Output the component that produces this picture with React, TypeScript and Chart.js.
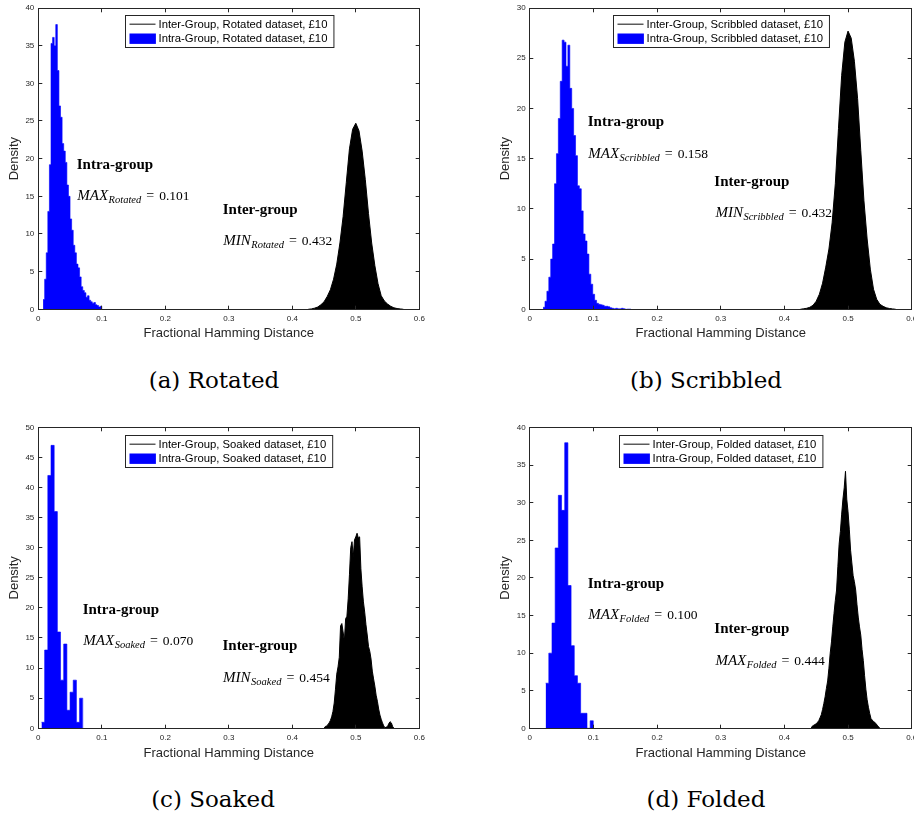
import React, { useEffect, useRef } from "react";
import { Chart, registerables } from "chart.js";

Chart.register(...registerables);

// ---------------- shared axis content ----------------
const X_TICKS = [0, 0.1, 0.2, 0.3, 0.4, 0.5, 0.6];
const X_TICK_LABELS = ["0", "0.1", "0.2", "0.3", "0.4", "0.5", "0.6"];
const X_TITLE = "Fractional Hamming Distance";
const Y_TITLE = "Density";

// ---------------- (a) Rotated ----------------
const ROT_Y_TICKS = [0, 5, 10, 15, 20, 25, 30, 35, 40];
const ROT_INTRA_START = 0.0075;
const ROT_INTRA_BIN = 0.0025;
const ROT_INTRA = [
  1.3, 4.0, 7.5, 13.0, 19.2, 35.3, 36.1, 35.0, 37.8, 31.7, 27.0, 25.5, 22.0,
  21.0, 19.5, 16.5, 15.0, 12.0, 10.5, 8.5, 7.5, 6.0, 5.5, 4.3, 3.0, 2.5, 2.2,
  1.6, 1.8, 1.2, 1.0, 0.8, 0.9, 0.6, 0.5, 0.3, 0.4,
];
const ROT_INTER_START = 0.425;
const ROT_INTER_STEP = 0.005;
const ROT_INTER = [
  0, 0.05, 0.15, 0.3, 0.6, 1.0, 1.7, 2.6, 4.0, 6.0, 8.8, 12.3, 16.8, 21.3,
  23.9, 24.7, 23.7, 21.0, 17.2, 12.7, 8.8, 5.8, 3.4, 1.8, 1.1, 0.7, 0.4, 0.2,
  0.1, 0.05, 0,
];

// ---------------- (b) Scribbled ----------------
const SCR_Y_TICKS = [0, 5, 10, 15, 20, 25, 30];
const SCR_INTRA_START = 0.021;
const SCR_INTRA_BIN = 0.003;
const SCR_INTRA = [
  0.2, 0.8, 1.8, 3.2, 5.0, 6.5, 12.5, 15.5, 19.0, 22.7, 26.8, 26.6, 24.2,
  26.3, 22.0, 20.0, 17.3, 15.3, 12.3, 12.0, 9.8, 7.5, 6.8, 5.5, 3.5, 2.5, 1.5,
  0.9, 0.6, 0.5, 0.45, 0.4, 0.3, 0.3, 0.25, 0.15, 0.1, 0.05, 0.1, 0.05, 0.05,
  0.1, 0.05, 0, 0.02, 0.02,
];
const SCR_INTER_START = 0.425;
const SCR_INTER_STEP = 0.005;
const SCR_INTER = [
  0, 0.05, 0.1, 0.2, 0.4, 0.8, 1.5, 2.6, 4.2, 6.0, 8.6, 12.5, 18.0, 23.3,
  26.6, 27.7, 27.0, 24.7, 21.0, 15.8, 10.8, 7.0, 4.0, 2.0, 1.0, 0.5, 0.3, 0.15,
  0.08, 0.04, 0,
];

// ---------------- (c) Soaked ----------------
const SOA_Y_TICKS = [0, 5, 10, 15, 20, 25, 30, 35, 40, 45, 50];
const SOA_INTRA_START = 0.005;
const SOA_INTRA_BIN = 0.005;
const SOA_INTRA = [1, 13, 42, 47, 36, 16, 8, 14, 3, 6, 8, 1, 5];
const SOA_INTER_START = 0.45;
const SOA_INTER_STEP = 0.002;
const SOA_INTER = [
  0, 0.3, 0.4, 0.6, 0.9, 1.3, 1.9, 2.8, 4.2, 6.5, 9.0, 10.2, 11.8, 17.0, 17.4,
  16.0, 14.5, 18.2, 18.6, 21.5, 25.5, 30.0, 31.0, 28.5, 31.3, 31.8, 32.4, 31.6,
  31.8, 26.5, 23.5, 21.0, 19.3, 17.2, 15.5, 13.6, 12.8, 11.5, 9.5, 8.2, 7.0,
  5.5, 4.5, 3.2, 2.2, 1.5, 0.9, 0.4, 0.1, 0.2, 0.3, 0.8, 1.1, 0.9, 0.3, 0,
];

// ---------------- (d) Folded ----------------
const FOL_Y_TICKS = [0, 5, 10, 15, 20, 25, 30, 35, 40];
const FOL_INTRA_START = 0.025;
const FOL_INTRA_BIN = 0.005;
const FOL_INTRA = [6, 10, 14, 24, 31, 29, 38, 19, 11, 7, 6, 2, 2, 0, 1];
const FOL_INTER_START = 0.442;
const FOL_INTER_STEP = 0.002;
const FOL_INTER = [
  0, 0.3, 0.4, 0.5, 0.6, 0.8, 1.0, 1.4, 1.8, 2.5, 3.3, 4.2, 5.3, 6.3, 8.0,
  10.0, 11.5, 13.5, 15.3, 17.0, 18.4, 21.5, 24.5, 26.2, 28.5, 30.5, 32.0, 34.2,
  30.5, 28.8, 26.5, 23.7, 22.0, 20.3, 19.5, 18.4, 16.5, 14.8, 13.5, 12.4, 10.5,
  9.0, 7.0, 5.2, 3.8, 2.8, 2.0, 1.3, 1.1, 0.9, 0.8, 0.6, 0.4, 0.2, 0,
];

// ---------------- styling ----------------
const SANS = '"Liberation Sans", Arial, Helvetica, sans-serif';
const SERIF = '"Liberation Serif", "Times New Roman", serif';
const CAPTION_FONT = '"DejaVu Serif", serif';
const AXIS_COLOR = "#262626";
const BLUE = "#0000ff";

// histogram outline: one point at every bin's left edge, closed at the last right edge
const histSteps = (start: number, bin: number, h: number[]) => [
  ...h.map((y, i) => ({ x: start + bin * i, y })),
  { x: start + bin * h.length, y: 0 },
];
const pts = (start: number, step: number, h: number[]) =>
  h.map((y, i) => ({ x: start + step * i, y }));

type MathNote = { x: number; y: number; op: string; sub: string; value: string };
type Panel = {
  key: string;
  name: string;
  caption: string;
  captionX: number;
  captionTop: number;
  left: number;
  top: number;
  width: number;
  height: number;
  area: { l: number; t: number; r: number; b: number };
  yMax: number;
  yTicks: number[];
  intra: { x: number; y: number }[];
  inter: { x: number; y: number }[];
  intraTitle: { x: number; y: number };
  intraMath: MathNote;
  interTitle: { x: number; y: number };
  interMath: MathNote;
};

const PANELS: Panel[] = [
  {
    key: "a",
    name: "Rotated",
    caption: "(a) Rotated",
    captionX: 214,
    captionTop: 368.5,
    left: 0,
    top: 0,
    width: 457,
    height: 345,
    area: { l: 38.3, t: 8, r: 419.3, b: 309.3 },
    yMax: 40,
    yTicks: ROT_Y_TICKS,
    intra: histSteps(ROT_INTRA_START, ROT_INTRA_BIN, ROT_INTRA),
    inter: pts(ROT_INTER_START, ROT_INTER_STEP, ROT_INTER),
    intraTitle: { x: 0.0605, y: 19.33 },
    intraMath: { x: 0.0614, y: 15.17, op: "MAX", sub: "Rotated", value: "0.101" },
    interTitle: { x: 0.2904, y: 13.36 },
    interMath: { x: 0.2913, y: 9.18, op: "MIN", sub: "Rotated", value: "0.432" },
  },
  {
    key: "b",
    name: "Scribbled",
    caption: "(b) Scribbled",
    captionX: 706,
    captionTop: 368.5,
    left: 491,
    top: 0,
    width: 423,
    height: 345,
    area: { l: 529.7, t: 8, r: 911.7, b: 309.3 },
    yMax: 30,
    yTicks: SCR_Y_TICKS,
    intra: histSteps(SCR_INTRA_START, SCR_INTRA_BIN, SCR_INTRA),
    inter: pts(SCR_INTER_START, SCR_INTER_STEP, SCR_INTER),
    intraTitle: { x: 0.0911, y: 18.78 },
    intraMath: { x: 0.092, y: 15.61, op: "MAX", sub: "Scribbled", value: "0.158" },
    interTitle: { x: 0.29, y: 12.74 },
    interMath: { x: 0.2917, y: 9.64, op: "MIN", sub: "Scribbled", value: "0.432" },
  },
  {
    key: "c",
    name: "Soaked",
    caption: "(c) Soaked",
    captionX: 213,
    captionTop: 787.5,
    left: 0,
    top: 420,
    width: 457,
    height: 345,
    area: { l: 38.3, t: 427.3, r: 419.3, b: 728.3 },
    yMax: 50,
    yTicks: SOA_Y_TICKS,
    intra: histSteps(SOA_INTRA_START, SOA_INTRA_BIN, SOA_INTRA),
    inter: pts(SOA_INTER_START, SOA_INTER_STEP, SOA_INTER),
    intraTitle: { x: 0.0699, y: 19.9 },
    intraMath: { x: 0.0709, y: 14.67, op: "MAX", sub: "Soaked", value: "0.070" },
    interTitle: { x: 0.29, y: 13.92 },
    interMath: { x: 0.291, y: 8.6, op: "MIN", sub: "Soaked", value: "0.454" },
  },
  {
    key: "d",
    name: "Folded",
    caption: "(d) Folded",
    captionX: 706,
    captionTop: 787.5,
    left: 491,
    top: 420,
    width: 423,
    height: 345,
    area: { l: 529.7, t: 427.7, r: 911.7, b: 728.3 },
    yMax: 40,
    yTicks: FOL_Y_TICKS,
    intra: histSteps(FOL_INTRA_START, FOL_INTRA_BIN, FOL_INTRA),
    inter: pts(FOL_INTER_START, FOL_INTER_STEP, FOL_INTER),
    intraTitle: { x: 0.0911, y: 19.35 },
    intraMath: { x: 0.092, y: 15.15, op: "MAX", sub: "Folded", value: "0.100" },
    interTitle: { x: 0.29, y: 13.33 },
    interMath: { x: 0.2917, y: 9.12, op: "MAX", sub: "Folded", value: "0.444" },
  },
];

function drawBold(ctx: CanvasRenderingContext2D, x: number, yMid: number, text: string) {
  ctx.font = `bold 15px ${SERIF}`;
  ctx.textAlign = "left";
  ctx.textBaseline = "alphabetic";
  ctx.fillStyle = "#000";
  ctx.fillText(text, x, yMid + 5);
}

function drawMath(ctx: CanvasRenderingContext2D, x: number, yMid: number, n: MathNote) {
  const base = yMid + 5;
  ctx.textAlign = "left";
  ctx.textBaseline = "alphabetic";
  ctx.fillStyle = "#000";
  ctx.font = `italic 15px ${SERIF}`;
  ctx.fillText(n.op, x, base);
  let cx = x + ctx.measureText(n.op).width + 0.5;
  ctx.font = `italic 10.5px ${SERIF}`;
  ctx.fillText(n.sub, cx, base + 3);
  cx += ctx.measureText(n.sub).width + 5;
  ctx.font = `14px ${SERIF}`;
  ctx.fillText("=", cx, base);
  cx += ctx.measureText("=").width + 5;
  ctx.font = `13.5px ${SERIF}`;
  ctx.fillText(n.value, cx, base);
}

function makeConfig(p: Panel): any {
  const xAxisH = p.top + p.height - p.area.b;
  const yAxisW = p.area.l - p.left;
  const overlay = {
    id: "overlay" + p.key,
    afterDraw(chart: any) {
      const ctx: CanvasRenderingContext2D = chart.ctx;
      const xs = chart.scales.x;
      const ys = chart.scales.y;
      const { left, right, top, bottom } = chart.chartArea;
      ctx.save();
      // axes box
      const L = Math.floor(left) + 0.5;
      const R = Math.floor(right) + 0.5;
      const T = Math.floor(top) + 0.5;
      const B = Math.floor(bottom) + 0.5;
      ctx.strokeStyle = AXIS_COLOR;
      ctx.lineWidth = 1;
      ctx.strokeRect(L, T, R - L, B - T);
      // inward ticks
      const tl = 3.8;
      ctx.beginPath();
      X_TICKS.forEach((v) => {
        const px = Math.floor(xs.getPixelForValue(v)) + 0.5;
        ctx.moveTo(px, B);
        ctx.lineTo(px, B - tl);
        ctx.moveTo(px, T);
        ctx.lineTo(px, T + tl);
      });
      p.yTicks.forEach((v) => {
        const py = Math.floor(ys.getPixelForValue(v)) + 0.5;
        ctx.moveTo(L, py);
        ctx.lineTo(L + tl, py);
        ctx.moveTo(R, py);
        ctx.lineTo(R - tl, py);
      });
      ctx.stroke();

      // legend
      ctx.font = `11.3px ${SANS}`;
      const t1 = `Inter-Group, ${p.name} dataset, £10`;
      const t2 = `Intra-Group, ${p.name} dataset, £10`;
      const tw = Math.max(ctx.measureText(t1).width, ctx.measureText(t2).width);
      const bw = 33 + tw + 6.5;
      const bh = 32;
      const bx = Math.round((left + right) / 2 - bw / 2) + 0.5;
      const by = Math.round(top + 7.3) + 0.5;
      ctx.fillStyle = "#fff";
      ctx.fillRect(bx, by, bw, bh);
      ctx.strokeStyle = AXIS_COLOR;
      ctx.lineWidth = 1;
      ctx.strokeRect(bx, by, bw, bh);
      ctx.strokeStyle = "#333";
      ctx.lineWidth = 1.2;
      ctx.beginPath();
      ctx.moveTo(bx + 4, by + 8.7);
      ctx.lineTo(bx + 30, by + 8.7);
      ctx.stroke();
      ctx.fillStyle = BLUE;
      ctx.fillRect(bx + 4, by + 18, 26.4, 10.4);
      ctx.fillStyle = "#000";
      ctx.textAlign = "left";
      ctx.textBaseline = "middle";
      ctx.fillText(t1, bx + 33, by + 9);
      ctx.fillText(t2, bx + 33, by + 23.5);

      // annotations
      drawBold(ctx, xs.getPixelForValue(p.intraTitle.x), ys.getPixelForValue(p.intraTitle.y), "Intra-group");
      drawMath(ctx, xs.getPixelForValue(p.intraMath.x), ys.getPixelForValue(p.intraMath.y), p.intraMath);
      drawBold(ctx, xs.getPixelForValue(p.interTitle.x), ys.getPixelForValue(p.interTitle.y), "Inter-group");
      drawMath(ctx, xs.getPixelForValue(p.interMath.x), ys.getPixelForValue(p.interMath.y), p.interMath);
      ctx.restore();
    },
  };

  return {
    type: "line",
    data: {
      datasets: [
        {
          label: `Inter-Group, ${p.name} dataset, £10`,
          data: p.inter,
          borderColor: "#000",
          backgroundColor: "#000",
          borderWidth: 1,
          pointRadius: 0,
          fill: "origin",
          tension: 0,
        },
        {
          label: `Intra-Group, ${p.name} dataset, £10`,
          data: p.intra,
          stepped: "before",
          borderColor: BLUE,
          backgroundColor: BLUE,
          borderWidth: 0.6,
          pointRadius: 0,
          fill: "origin",
          tension: 0,
        },
      ],
    },
    options: {
      responsive: false,
      animation: false,
      devicePixelRatio: 1,
      events: [],
      layout: {
        autoPadding: false,
        padding: {
          left: 0,
          top: p.area.t - p.top,
          right: p.left + p.width - p.area.r,
          bottom: 0,
        },
      },
      plugins: {
        legend: { display: false },
        tooltip: { enabled: false },
        title: { display: false },
      },
      scales: {
        x: {
          type: "linear",
          min: 0,
          max: 0.6,
          offset: false,
          grid: { display: false, drawTicks: false },
          border: { display: false },
          afterBuildTicks: (s: any) => {
            s.ticks = X_TICKS.map((v) => ({ value: v }));
          },
          afterFit: (s: any) => {
            s.height = xAxisH;
            s.paddingLeft = 0;
            s.paddingRight = 0;
          },
          ticks: {
            autoSkip: false,
            maxRotation: 0,
            minRotation: 0,
            padding: 5,
            color: AXIS_COLOR,
            font: { family: SANS, size: 8 },
            callback: (_v: any, i: number) => X_TICK_LABELS[i],
          },
          title: {
            display: true,
            text: X_TITLE,
            color: AXIS_COLOR,
            font: { family: SANS, size: 13 },
            padding: { top: 0, bottom: 4 },
          },
        },
        y: {
          type: "linear",
          min: 0,
          max: p.yMax,
          grid: { display: false, drawTicks: false },
          border: { display: false },
          afterBuildTicks: (s: any) => {
            s.ticks = p.yTicks.map((v) => ({ value: v }));
          },
          afterFit: (s: any) => {
            s.width = yAxisW;
            s.paddingTop = 0;
            s.paddingBottom = 0;
          },
          ticks: {
            autoSkip: false,
            padding: 4,
            color: AXIS_COLOR,
            font: { family: SANS, size: 8 },
            callback: (v: any) => String(v),
          },
          title: {
            display: true,
            text: Y_TITLE,
            color: AXIS_COLOR,
            font: { family: SANS, size: 13 },
            padding: { top: 6.2, bottom: 0 },
          },
        },
      },
    },
    plugins: [overlay],
  };
}

function PanelChart({ p }: { p: Panel }) {
  const ref = useRef<HTMLCanvasElement | null>(null);
  useEffect(() => {
    if (!ref.current) return;
    const chart = new Chart(ref.current, makeConfig(p));
    return () => chart.destroy();
  }, [p]);
  return (
    <div
      style={{
        position: "absolute",
        left: p.left,
        top: p.top,
        width: p.width,
        height: p.height,
      }}
    >
      <canvas ref={ref} width={p.width} height={p.height} style={{ width: p.width, height: p.height }} />
    </div>
  );
}

export default function App() {
  return (
    <div
      style={{
        position: "absolute",
        left: 0,
        top: 0,
        width: 914,
        height: 818,
        overflow: "hidden",
        background: "#fff",
      }}
    >
      {PANELS.map((p) => (
        <PanelChart key={p.key} p={p} />
      ))}
      {PANELS.map((p) => (
        <div
          key={"cap" + p.key}
          style={{
            position: "absolute",
            left: p.captionX - 200,
            top: p.captionTop,
            width: 400,
            textAlign: "center",
            fontFamily: CAPTION_FONT,
            fontSize: 23,
            lineHeight: "23px",
            whiteSpace: "nowrap",
            color: "#000",
          }}
        >
          {p.caption}
        </div>
      ))}
    </div>
  );
}
